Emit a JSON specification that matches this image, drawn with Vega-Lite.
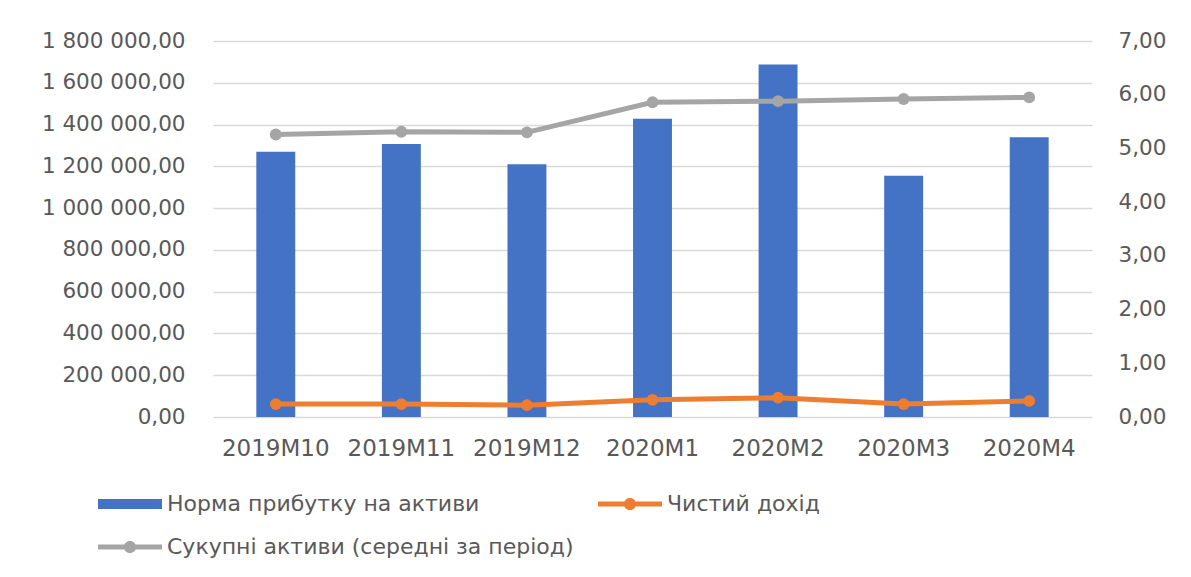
{
  "$schema": "https://vega.github.io/schema/vega-lite/v6.json",
  "width": 879,
  "height": 376,
  "autosize": {"type": "none"},
  "padding": {"left": 213, "top": 41, "right": 99, "bottom": 160},
  "background": "white",
  "config": {
    "locale": {"number": {"decimal": ",", "thousands": " ", "grouping": [3], "currency": ["", ""]}},
    "view": {"stroke": null},
    "font": "DejaVu Sans",
    "axis": {"labelFont": "DejaVu Sans", "labelColor": "#595959", "domain": false, "ticks": false, "tickSize": 0, "title": null},
    "legend": {
      "labelFont": "DejaVu Sans", "labelColor": "#595959", "labelFontSize": 22, "labelLimit": 0,
      "orient": "none", "direction": "horizontal", "legendX": -115, "legendY": 447, "columns": 2, "columnPadding": 24, "rowPadding": 16,
      "labelOffset": 37, "symbolSize": 1024, "symbolStrokeWidth": 0, "titleFontSize": 0
    }
  },
  "data": {
    "values": [
      {"period": "2019M10", "Норма прибутку на активи": 1270000, "Чистий дохід": 0.24, "Сукупні активи (середні за період)": 5.26},
      {"period": "2019M11", "Норма прибутку на активи": 1307000, "Чистий дохід": 0.24, "Сукупні активи (середні за період)": 5.31},
      {"period": "2019M12", "Норма прибутку на активи": 1210000, "Чистий дохід": 0.22, "Сукупні активи (середні за період)": 5.30},
      {"period": "2020M1", "Норма прибутку на активи": 1428000, "Чистий дохід": 0.32, "Сукупні активи (середні за період)": 5.86},
      {"period": "2020M2", "Норма прибутку на активи": 1688000, "Чистий дохід": 0.36, "Сукупні активи (середні за період)": 5.88},
      {"period": "2020M3", "Норма прибутку на активи": 1155000, "Чистий дохід": 0.24, "Сукупні активи (середні за період)": 5.92},
      {"period": "2020M4", "Норма прибутку на активи": 1339000, "Чистий дохід": 0.30, "Сукупні активи (середні за період)": 5.95}
    ]
  },
  "encoding": {
    "x": {
      "field": "period", "type": "nominal", "sort": null,
      "scale": {"paddingInner": 0.69, "paddingOuter": 0.345},
      "axis": {"labelAngle": 0, "labelFontSize": 23, "labelPadding": 20, "labelColor": "#595959"}
    },
    "color": {
      "field": "series", "type": "nominal",
      "scale": {
        "domain": ["Норма прибутку на активи", "Чистий дохід", "Сукупні активи (середні за період)"],
        "range": ["#4472C4", "#ED7D31", "#A5A5A5"]
      },
      "legend": {
        "title": null,
        "direction": "horizontal",
        "values": ["Норма прибутку на активи", "Чистий дохід", "Сукупні активи (середні за період)"],
        "encode": {
          "symbols": {
            "update": {
              "shape": {"signal": "datum.value === 'Норма прибутку на активи' ? 'M-1,-0.31L3,-0.31L3,0.31L-1,0.31Z' : 'M-1,-0.15L3,-0.15L3,0.15L-1,0.15Z M0.62,0A0.38,0.38 0 1,1 1.38,0A0.38,0.38 0 1,1 0.62,0Z'"},
              "fill": {"signal": "scale('color', datum.value)"},
              "stroke": {"value": "transparent"},
              "strokeWidth": {"value": 0},
              "size": {"value": 1024},
              "opacity": {"value": 1}
            }
          }
        }
      }
    }
  },
  "layer": [
    {
      "transform": [{"fold": ["Норма прибутку на активи"], "as": ["series", "value"]}],
      "mark": {"type": "bar"},
      "encoding": {
        "y": {
          "field": "value", "type": "quantitative",
          "scale": {"domain": [0, 1800000], "nice": false, "zero": true},
          "axis": {"orient": "left", "values": [0,200000,400000,600000,800000,1000000,1200000,1400000,1600000,1800000], "format": ",.2f", "labelFontSize": 21.5, "labelPadding": 28, "grid": true, "gridColor": "#D9D9D9", "gridWidth": 1.3}
        }
      }
    },
    {
      "transform": [{"fold": ["Чистий дохід", "Сукупні активи (середні за період)"], "as": ["series", "value"]}],
      "mark": {"type": "line", "strokeWidth": 5, "point": {"filled": true, "size": 140}},
      "encoding": {
        "y": {
          "field": "value", "type": "quantitative",
          "scale": {"domain": [0, 7], "nice": false},
          "axis": {"orient": "right", "values": [0,1,2,3,4,5,6,7], "format": ".2f", "labelFontSize": 21.5, "labelPadding": 26, "grid": false}
        }
      }
    }
  ],
  "resolve": {"scale": {"y": "independent"}}
}
